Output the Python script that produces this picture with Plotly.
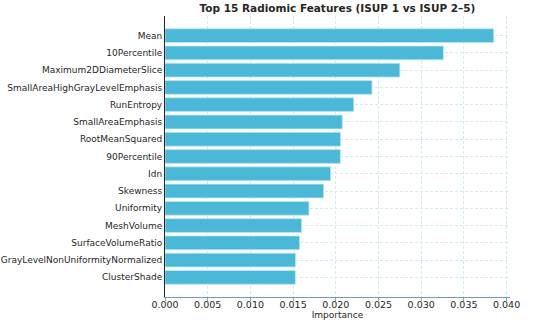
import plotly.graph_objects as go

features = [
    "Mean", "10Percentile", "Maximum2DDiameterSlice", "SmallAreaHighGrayLevelEmphasis",
    "RunEntropy", "SmallAreaEmphasis", "RootMeanSquared", "90Percentile", "Idn",
    "Skewness", "Uniformity", "MeshVolume", "SurfaceVolumeRatio",
    "GrayLevelNonUniformityNormalized", "ClusterShade",
]
importance = [
    0.0385, 0.0326, 0.0275, 0.02424, 0.0221, 0.02076, 0.02056, 0.02053,
    0.01939, 0.01857, 0.01686, 0.0160, 0.01576, 0.01529, 0.01526,
]
x_ticks = [0.0, 0.005, 0.010, 0.015, 0.020, 0.025, 0.030, 0.035, 0.040]
x_tick_labels = ["0.000", "0.005", "0.010", "0.015", "0.020", "0.025", "0.030", "0.035", "0.040"]

FONT = "DejaVu Sans"
GRID = "#d3ecf3"
TXT = "#262626"

fig = go.Figure(
    go.Bar(
        x=importance,
        y=features,
        orientation="h",
        width=0.8,
        marker=dict(color="#4cb8d8", line=dict(color="#bfe6f2", width=0.8)),
    )
)

fig.update_layout(
    width=550,
    height=326,
    margin=dict(l=165, r=40, t=16, b=29, autoexpand=False),
    paper_bgcolor="white",
    plot_bgcolor="white",
    showlegend=False,
    font=dict(family=FONT, size=9, color=TXT),
    title=dict(
        text="<b>Top 15 Radiomic Features (ISUP 1 vs ISUP 2–5)</b>",
        font=dict(family=FONT, size=10.5, color=TXT),
        x=337.5 / 550,
        xanchor="center",
        y=1 - 8.5 / 326,
        yanchor="middle",
    ),
)

fig.update_xaxes(
    range=[0, 0.0404],
    tickvals=x_ticks,
    ticktext=x_tick_labels,
    showgrid=True,
    gridcolor=GRID,
    griddash="3px,2px",
    gridwidth=1,
    zeroline=False,
    showline=True,
    linecolor="#7a9aa4",
    linewidth=1,
    ticks="outside",
    ticklen=3,
    tickcolor="#5fb8cf",
    ticklabelstandoff=-4,
    automargin=False,
    tickfont=dict(family=FONT, size=9.5, color=TXT),
    title=dict(text="Importance", font=dict(family=FONT, size=9, color=TXT), standoff=2),
)

fig.update_yaxes(
    categoryorder="array",
    categoryarray=features,
    autorange=False,
    range=[14 + 1.14, -1.14],
    showgrid=True,
    gridcolor=GRID,
    griddash="3px,2px",
    gridwidth=1,
    zeroline=False,
    showline=True,
    linecolor="#222222",
    linewidth=1,
    ticks="",
    automargin=False,
    tickfont=dict(family=FONT, size=9, color=TXT),
)

fig.write_html(
    "out.html",
    config={"displayModeBar": False},
    post_script="document.body.style.margin='0';document.body.style.overflow='hidden';",
)
